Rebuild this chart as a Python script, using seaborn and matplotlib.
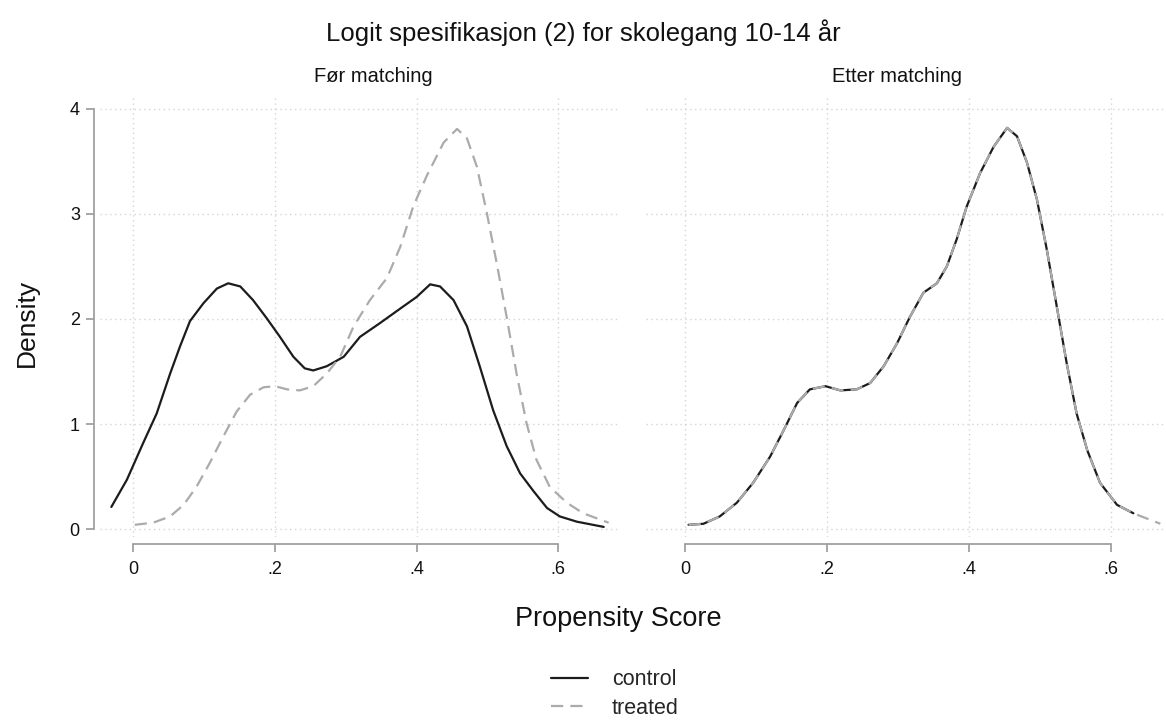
import matplotlib
matplotlib.use("Agg")
import matplotlib.pyplot as plt
import seaborn as sns
from matplotlib.lines import Line2D

# ---------------- data ----------------
before_control_x = [-0.031, -0.009, 0.014, 0.033, 0.052, 0.066, 0.080, 0.099, 0.118, 0.134,
                    0.151, 0.169, 0.188, 0.207, 0.226, 0.242, 0.254, 0.273, 0.297, 0.320,
                    0.348, 0.377, 0.400, 0.419, 0.433, 0.452, 0.471, 0.489, 0.508, 0.527,
                    0.546, 0.565, 0.584, 0.602, 0.626, 0.664]
before_control_y = [0.21, 0.47, 0.82, 1.10, 1.48, 1.74, 1.98, 2.15, 2.29, 2.34,
                    2.31, 2.18, 2.01, 1.83, 1.64, 1.53, 1.51, 1.55, 1.64, 1.83,
                    1.96, 2.10, 2.21, 2.33, 2.31, 2.18, 1.93, 1.55, 1.13, 0.79,
                    0.53, 0.36, 0.20, 0.12, 0.07, 0.02]

before_treated_x = [0.002, 0.028, 0.052, 0.071, 0.089, 0.108, 0.127, 0.146, 0.165, 0.184,
                    0.200, 0.217, 0.235, 0.254, 0.273, 0.292, 0.311, 0.334, 0.358, 0.377,
                    0.395, 0.414, 0.438, 0.457, 0.471, 0.485, 0.499, 0.513, 0.527, 0.541,
                    0.555, 0.569, 0.588, 0.612, 0.635, 0.671]
before_treated_y = [0.04, 0.06, 0.12, 0.23, 0.40, 0.63, 0.88, 1.12, 1.28, 1.35,
                    1.36, 1.33, 1.32, 1.36, 1.48, 1.64, 1.93, 2.18, 2.39, 2.69,
                    3.07, 3.36, 3.68, 3.81, 3.72, 3.45, 3.01, 2.53, 2.02, 1.48,
                    1.01, 0.66, 0.40, 0.25, 0.15, 0.06]

after_treated_x = [0.005, 0.026, 0.049, 0.073, 0.096, 0.120, 0.139, 0.158, 0.176, 0.198,
                   0.219, 0.242, 0.261, 0.280, 0.299, 0.317, 0.336, 0.355, 0.369, 0.383,
                   0.397, 0.416, 0.435, 0.454, 0.468, 0.482, 0.496, 0.510, 0.524, 0.538,
                   0.552, 0.567, 0.585, 0.609, 0.632, 0.670]
after_treated_y = [0.04, 0.05, 0.12, 0.25, 0.44, 0.69, 0.94, 1.20, 1.33, 1.36,
                   1.32, 1.33, 1.39, 1.55, 1.77, 2.02, 2.25, 2.34, 2.50, 2.76,
                   3.07, 3.39, 3.64, 3.82, 3.74, 3.49, 3.14, 2.66, 2.12, 1.58,
                   1.10, 0.75, 0.44, 0.23, 0.15, 0.05]

after_control_x = [0.005, 0.026, 0.049, 0.073, 0.096, 0.120, 0.139, 0.158, 0.176, 0.198,
                   0.219, 0.242, 0.261, 0.280, 0.299, 0.317, 0.336, 0.355, 0.369, 0.383,
                   0.397, 0.416, 0.435, 0.454, 0.468, 0.482, 0.496, 0.510, 0.524, 0.538,
                   0.552, 0.567, 0.585, 0.609, 0.632]
after_control_y = [0.04, 0.05, 0.12, 0.25, 0.44, 0.69, 0.94, 1.20, 1.33, 1.36,
                   1.32, 1.33, 1.39, 1.55, 1.77, 2.02, 2.25, 2.34, 2.50, 2.76,
                   3.07, 3.39, 3.64, 3.82, 3.74, 3.49, 3.14, 2.66, 2.12, 1.58,
                   1.10, 0.75, 0.44, 0.23, 0.15]

x_ticks = [0, 0.2, 0.4, 0.6]
x_tick_labels = ["0", ".2", ".4", ".6"]
y_ticks = [0, 1, 2, 3, 4]
y_tick_labels = ["0", "1", "2", "3", "4"]
panel_titles = ["Før matching", "Etter matching"]
series_labels = ["control", "treated"]
main_title = "Logit spesifikasjon (2) for skolegang 10-14 år"

# ---------------- style ----------------
sns.set_theme(style="white")
plt.rcParams["font.family"] = ["Liberation Sans", "DejaVu Sans"]
plt.rcParams["lines.solid_joinstyle"] = "round"
plt.rcParams["lines.dash_joinstyle"] = "round"

CONTROL_COLOR = "#1c1c1c"
TREATED_COLOR = "#ababab"
AXIS_COLOR = "#a0a0a0"
GRID_COLOR = "#d4d4d4"
DASH = (0, (5.5, 3.2))

fig = plt.figure(figsize=(11.66, 7.22), dpi=100)
W, H = 1166, 722

def px_axes(x0, x1, ytop, ybot):
    return fig.add_axes([x0 / W, 1 - ybot / H, (x1 - x0) / W, (ybot - ytop) / H])

ax1 = px_axes(100, 620, 97, 537)
ax2 = px_axes(646, 1166, 97, 537)

# left panel
sns.lineplot(x=before_control_x, y=before_control_y, ax=ax1, color=CONTROL_COLOR,
             lw=1.6, sort=False, estimator=None, zorder=3)
sns.lineplot(x=before_treated_x, y=before_treated_y, ax=ax1, color=TREATED_COLOR,
             lw=1.6, sort=False, estimator=None, linestyle=DASH, zorder=3)
# right panel
sns.lineplot(x=after_control_x, y=after_control_y, ax=ax2, color=CONTROL_COLOR,
             lw=1.6, sort=False, estimator=None, zorder=3)
sns.lineplot(x=after_treated_x, y=after_treated_y, ax=ax2, color=TREATED_COLOR,
             lw=1.6, sort=False, estimator=None, linestyle=DASH, zorder=4)

ax1.set_xlim(-0.047, 0.687)
ax2.set_xlim(-0.055, 0.678)
for ax in (ax1, ax2):
    ax.set_ylim(-0.076, 4.114)
    ax.set_xticks(x_ticks)
    ax.set_xticklabels(x_tick_labels)
    ax.set_yticks(y_ticks)
    ax.set_yticklabels(y_tick_labels)
    ax.grid(True, color=GRID_COLOR, linestyle=(0, (1, 2.5)), lw=1.0)
    ax.set_axisbelow(True)
    ax.set_xlabel("")
    ax.set_ylabel("")
    for s in ("top", "right"):
        ax.spines[s].set_visible(False)
    ax.spines["bottom"].set_position(("outward", 5))
    ax.spines["bottom"].set_bounds(0, 0.6)
    ax.spines["bottom"].set_color(AXIS_COLOR)
    ax.spines["bottom"].set_linewidth(1.3)
    ax.tick_params(axis="x", which="major", direction="out", length=6,
                   width=1.3, color=AXIS_COLOR, labelsize=13, labelcolor="#111111",
                   pad=6, bottom=True)
    ax.patch.set_alpha(0)

ax1.spines["left"].set_position(("outward", 4.5))
ax1.spines["left"].set_bounds(0, 4)
ax1.spines["left"].set_color(AXIS_COLOR)
ax1.spines["left"].set_linewidth(1.3)
ax1.tick_params(axis="y", direction="out", length=6, width=1.3, color=AXIS_COLOR,
                labelsize=13, labelcolor="#111111", pad=4, left=True)

ax2.spines["left"].set_visible(False)
ax2.tick_params(axis="y", left=False, labelleft=False)

# texts
fig.text(583 / W, 1 - 33 / H, main_title, ha="center", va="center", fontsize=18.5,
         color="#111111")
fig.text(373 / W, 1 - 77 / H, panel_titles[0], ha="center", va="center", fontsize=14.5,
         color="#111111")
fig.text(897 / W, 1 - 77 / H, panel_titles[1], ha="center", va="center", fontsize=14.5,
         color="#111111")
fig.text(618 / W, 1 - 619 / H, "Propensity Score", ha="center", va="center", fontsize=19.5,
         color="#111111")
fig.text(27 / W, 1 - 323 / H, "Density", ha="center", va="center", fontsize=19,
         rotation=90, color="#111111")

handles = [Line2D([], [], color=CONTROL_COLOR, lw=1.6),
           Line2D([], [], color=TREATED_COLOR, lw=1.6, linestyle=DASH)]
fig.legend(handles, series_labels, loc="center", bbox_to_anchor=(615 / W, 1 - 694 / H),
           frameon=False, fontsize=15.5, handlelength=1.7, handletextpad=1.1,
           labelspacing=0.35, borderpad=0)

fig.savefig("out.png", dpi=100)
